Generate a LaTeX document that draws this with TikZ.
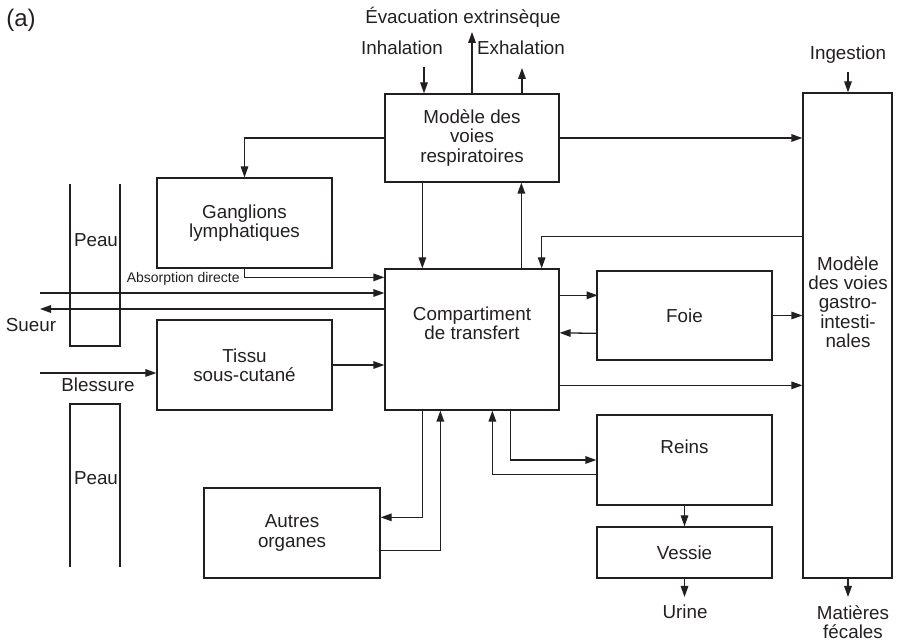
\documentclass[tikz,border=0pt]{standalone}
\usepackage{fontspec}
\setmainfont{Liberation Sans}
\usetikzlibrary{arrows.meta,calc}
\definecolor{ink}{RGB}{35,31,32}
\begin{document}
\begin{tikzpicture}[x=0.5pt,y=-0.5pt,
  box/.style={draw=ink, line width=0.65pt, inner sep=0pt, align=center, text=ink,
              font=\fontsize{9.4}{9.7}\selectfont},
  txt/.style={inner sep=0pt, align=center, text=ink, font=\fontsize{9.4}{9.7}\selectfont},
  smalltxt/.style={inner sep=0pt, text=ink, font=\fontsize{7}{8}\selectfont},
  arr/.style={draw=ink, line width=0.65pt, -{Triangle[length=5.5pt,width=3.8pt]}},
  ln/.style={draw=ink, line width=0.65pt}]
\useasboundingbox (0,0) rectangle (900,640);

% boxes
\node[box, minimum width=87pt, minimum height=44pt] (resp) at (472,138) {Modèle des\\voies\\respiratoires};
\node[box, minimum width=87.5pt, minimum height=45pt] (gang) at (244.5,223) {Ganglions\\lymphatiques};
\node[box, minimum width=87pt, minimum height=70.5pt] (comp) at (472,339.5) {};
\node[txt] (comptxt) at (472,323) {Compartiment\\de transfert};
\node[box, minimum width=87.5pt, minimum height=44.5pt] (foie) at (684.5,315.5) {Foie};
\node[box, minimum width=44.5pt, minimum height=242.5pt] (gi) at (847.5,335.5) {};
\node[txt] (gitxt) at (848,302) {Modèle\\des voies\\gastro-\\intesti-\\nales};
\node[box, minimum width=87.5pt, minimum height=45pt] (tissu) at (244.5,365) {Tissu\\sous-cutané};
\node[box, minimum width=87.5pt, minimum height=45pt] (reins) at (684.5,460) {};
\node[txt] (reinstxt) at (684.5,447) {Reins};
\node[box, minimum width=87.5pt, minimum height=25.5pt] (vessie) at (684.5,552.5) {Vessie};
\node[box, minimum width=88pt, minimum height=45pt] (autres) at (292,533) {Autres\\organes};

% skin
\draw[ln] (70,184) -- (70,346) -- (120,346) -- (120,184);
\draw[ln] (70,567) -- (70,404) -- (120,404) -- (120,567);
\node[txt] (peau1) at (96,240) {Peau};
\node[txt] (peau2) at (96,478) {Peau};

% labels
\node[txt, font=\fontsize{12}{13}\selectfont] (lbla) at (21,20) {(a)};
\node[txt] (evactxt) at (463,17) {Évacuation extrinsèque};
\node[txt] (inhtxt) at (402,48) {Inhalation};
\node[txt] (exhtxt) at (521,48) {Exhalation};
\node[txt] (ingtxt) at (848,55) {Ingestion};
\node[txt] (sueur) at (31,325) {Sueur};
\node[txt] (blessure) at (98,385) {Blessure};
\node[smalltxt, anchor=east] (absd) at (240,279) {Absorption directe};
\node[txt] (urine) at (685,612) {Urine};
\node[txt] (feces) at (853,622) {Matières\\fécales};

% free ends
\coordinate (inh) at (424,67);
\coordinate (evac) at (472,32);
\coordinate (exh) at (522,68);
\coordinate (ing) at (848,72);
\coordinate (in1) at (40,293);
\coordinate (out1) at (40,309);
\coordinate (bl) at (40,373);
\coordinate (ur) at (684.5,597);
\coordinate (fe) at (848,597);

% top arrows
\draw[arr] (inh) -- (inh |- resp.north);
\draw[arr] (evac |- resp.north) -- (evac);
\draw[arr] (exh |- resp.north) -- (exh);
\draw[arr] (ing) -- (ing |- gi.north);

% respiratory connections
\draw[arr] (resp.east) -- (resp.east -| gi.west);
\draw[arr] (resp.west) -| (gang.north);
\draw[arr] ($(resp.south west)+(38,0)$) -- ($(comp.north west)+(38,0)$);
\draw[arr] ($(comp.north west)+(137,0)$) -- ($(resp.south west)+(137,0)$);
\draw[arr] ($(gi.north west)+(0,144)$) -| ($(comp.north east)+(-18,0)$);

% left side
\draw[arr] (gang.south) |- ($(comp.north west)+(0,9)$);
\draw[arr] (in1) -- (in1 -| comp.west);
\draw[arr] (out1 -| comp.west) -- (out1);
\draw[arr] (bl) -- (bl -| tissu.west);
\draw[arr] (tissu.east) -- (tissu.east -| comp.west);

% right side
\draw[arr] ($(comp.north east)+(0,27)$) -- ($(comp.north east)+(38,27)$);
\draw[arr] ($(foie.north west)+(0,63)$) -- ($(comp.north east)+(0,64.5)$);
\draw[arr] (foie.east) -- (foie.east -| gi.west);
\draw[arr] ($(comp.north east)+(0,117)$) -- ($(gi.north west)+(0,293)$);

% bottom
\draw[arr] ($(comp.south west)+(38,0)$) |- ($(autres.north east)+(0,30)$);
\draw[arr] ($(autres.north east)+(0,63)$) -| ($(comp.south west)+(56,0)$);
\draw[arr] ($(reins.north west)+(0,60)$) -| ($(comp.south west)+(108,0)$);
\draw[arr] ($(comp.south west)+(126,0)$) |- (reins.west);
\draw[arr] (reins.south) -- (vessie.north);
\draw[arr] (vessie.south) -- (ur);
\draw[arr] (fe |- gi.south) -- (fe);
\end{tikzpicture}
\end{document}
